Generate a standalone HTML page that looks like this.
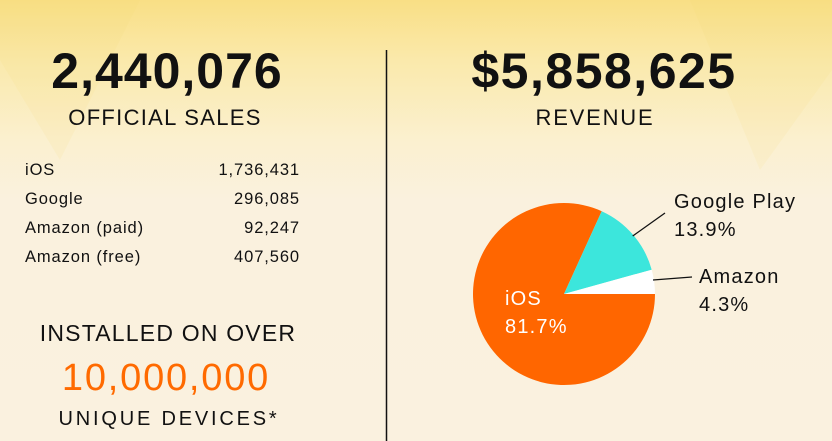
<!DOCTYPE html>
<html><head><meta charset="utf-8"><style>
body{margin:0;width:832px;height:441px;overflow:hidden;font-family:"Liberation Sans",sans-serif;}
.bg{position:absolute;left:0;top:0;width:832px;height:441px;background:linear-gradient(to bottom,#f9df85 0px,#fae9ab 60px,#fbf0cf 140px,#faf1de 200px,#faf1df 441px);}
</style></head><body>
<div class="bg"></div>
<svg width="832" height="441" style="position:absolute;left:0;top:0">
<polygon points="0,0 0,60 60,160 140,0" fill="#f7d56a" opacity="0.1"/>
<polygon points="832,0 832,70 760,170 690,0" fill="#f7d56a" opacity="0.1"/>
<line x1="386.5" y1="50" x2="386.5" y2="441" stroke="#111" stroke-width="1.5"/>
<g font-family="Liberation Sans, sans-serif" fill="#111">
<text x="167" y="88" font-size="50" font-weight="bold" letter-spacing="1" text-anchor="middle">2,440,076</text>
<text x="165" y="125" font-size="22" letter-spacing="1.3" text-anchor="middle">OFFICIAL SALES</text>
<g font-size="16.5" letter-spacing="0.9">
<text x="25" y="175">iOS</text><text x="300" y="175" text-anchor="end">1,736,431</text>
<text x="25" y="204">Google</text><text x="300" y="204" text-anchor="end">296,085</text>
<text x="25" y="233">Amazon (paid)</text><text x="300" y="233" text-anchor="end">92,247</text>
<text x="25" y="262">Amazon (free)</text><text x="300" y="262" text-anchor="end">407,560</text>
</g>
<text x="168" y="341" font-size="23" letter-spacing="1.2" text-anchor="middle">INSTALLED ON OVER</text>
<text x="166" y="390" font-size="38" letter-spacing="1.8" fill="#ff6a00" text-anchor="middle">10,000,000</text>
<text x="169" y="425" font-size="20" letter-spacing="2.8" text-anchor="middle">UNIQUE DEVICES*</text>
<text x="604" y="88" font-size="50" font-weight="bold" letter-spacing="1.5" text-anchor="middle">$5,858,625</text>
<text x="595" y="125" font-size="22" letter-spacing="1.8" text-anchor="middle">REVENUE</text>
</g>
<path d="M564,294 L655,294 A91,91 0 1 1 601.7,211.2 Z" fill="#ff6600"/>
<path d="M564,294 L601.7,211.2 A91,91 0 0 1 651.7,269.7 Z" fill="#3ce6dc"/>
<path d="M564,294 L651.7,269.7 A91,91 0 0 1 655,294 Z" fill="#ffffff"/>
<line x1="632.7" y1="236" x2="665" y2="213" stroke="#111" stroke-width="1.3"/>
<line x1="653" y1="280" x2="692" y2="277" stroke="#111" stroke-width="1.3"/>
<g font-family="Liberation Sans, sans-serif" font-size="20" letter-spacing="1.2" fill="#111">
<text x="674" y="208">Google Play</text><text x="674" y="236">13.9%</text>
<text x="699" y="283">Amazon</text><text x="699" y="311">4.3%</text>
<text x="505" y="305" fill="#fff">iOS</text><text x="505" y="333" fill="#fff">81.7%</text>
</g>
</svg>
</body></html>
